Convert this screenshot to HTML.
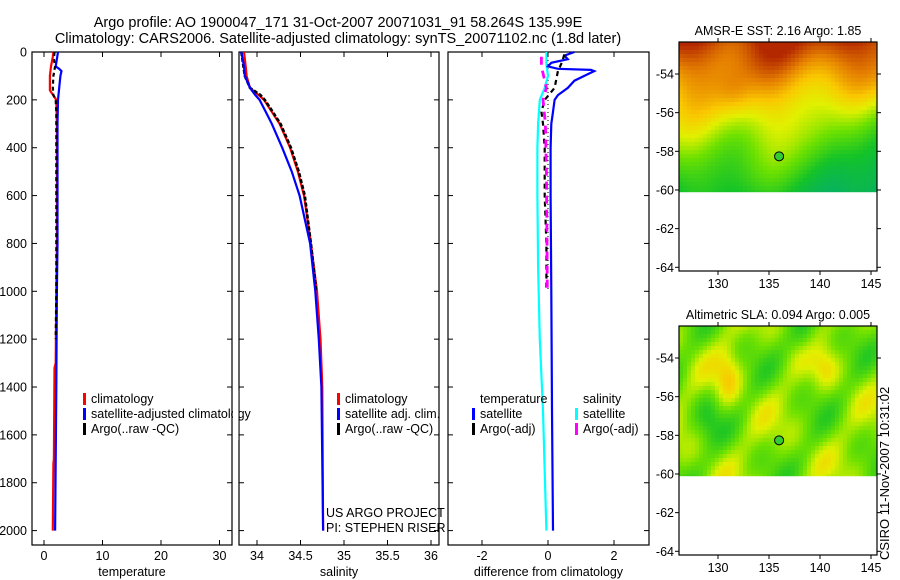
<!DOCTYPE html>
<html><head><meta charset="utf-8"><style>
body{margin:0;background:#fff;}
svg{display:block;font-family:"Liberation Sans",sans-serif;}
</style></head><body>
<svg id="fig" width="900" height="580" viewBox="0 0 900 580">
<text x="338" y="27" font-size="14.5" text-anchor="middle">Argo profile: AO 1900047_171 31-Oct-2007 20071031_91 58.264S 135.99E</text>
<text x="338" y="43" font-size="14.5" text-anchor="middle">Climatology: CARS2006. Satellite-adjusted climatology: synTS_20071102.nc (1.8d later)</text>
<text transform="translate(889,560) rotate(-90)" font-size="13">CSIRO 11-Nov-2007 10:31:02</text>
<g id="plots"></g>
</svg>
<script>
// ---- data ----
const depthTicks=[0,200,400,600,800,1000,1200,1400,1600,1800,2000];
const tempTicks=[0,10,20,30];
const salTicks=[34,34.5,35,35.5,36];
const salTickLabels=["34","34.5","35","35.5","36"];
const diffTicks=[-2,0,2];
const latTicks=[54,56,58,60,62,64];
const lonTicks=[130,135,140,145];

const tClimD=[0,20,60,100,160,200,300,500,800,1000,1300,1320,1700,1720,2000];
const tClimV=[1.6,1.5,1.2,1.0,1.0,2.1,2.2,2.2,2.2,2.1,2.0,1.8,1.7,1.6,1.5];
const tSatD=[0,60,70,80,100,150,200,300,500,800,1000,1400,2000];
const tSatV=[2.4,2.0,2.6,3.0,2.8,2.6,2.4,2.3,2.3,2.3,2.2,2.1,1.9];
const tArgoD=[0,30,60,100,150,180,200,250,300,500,800,1000,1200];
const tArgoV=[1.8,1.7,1.9,1.6,1.5,1.6,2.0,2.1,2.1,2.1,2.1,2.1,2.0];

const sClimD=[0,60,100,150,180,200,250,300,400,500,600,800,1000,1200,1400,2000];
const sClimV=[33.85,33.87,33.88,33.92,34.02,34.08,34.17,34.26,34.38,34.47,34.54,34.62,34.69,34.73,34.75,34.76];
const sSatD=[0,60,100,150,180,200,250,300,400,500,600,800,1000,1200,1400,2000];
const sSatV=[33.82,33.85,33.86,33.92,33.98,34.03,34.10,34.17,34.29,34.40,34.49,34.61,34.67,34.71,34.74,34.76];
const sArgoD=[0,50,100,150,180,200,250,300,400,500,600,800,1000];
const sArgoV=[33.82,33.84,33.86,33.92,34.04,34.09,34.18,34.27,34.39,34.48,34.55,34.62,34.68];

const dTSatD=[0,15,30,45,60,70,75,80,100,120,150,180,200,250,300,400,600,1000,1500,2000];
const dTSatV=[0.8,0.5,0.6,0.1,0.0,0.3,1.3,1.4,1.1,0.8,0.6,0.3,0.2,0.15,0.1,0.08,0.08,0.1,0.12,0.15];
const dSSatD=[0,50,100,150,200,300,400,600,900,1200,1500,2000];
const dSSatV=[-0.05,-0.05,0.0,-0.1,-0.25,-0.3,-0.32,-0.32,-0.3,-0.25,-0.15,-0.05];
const dTArgoD=[10,50,80,150,200,250,300,400,600,800,1000];
const dTArgoV=[0.5,0.4,0.3,0.2,-0.1,-0.2,-0.15,-0.1,-0.1,-0.05,-0.05];
const dSArgoD=[20,60,150,200,300,500,800,1000];
const dSArgoV=[-0.2,-0.2,-0.05,-0.15,-0.08,-0.05,-0.03,-0.02];

const sstFloat=[135.99,-58.26];
// ---- drawing ----
const NS="http://www.w3.org/2000/svg";
const root=document.getElementById('plots');
function mk(tag,attrs,parent){const e=document.createElementNS(NS,tag);for(const k in attrs)e.setAttribute(k,attrs[k]);(parent||root).appendChild(e);return e;}
const Y0=52,KY=0.2393,YB=545;
const yD=d=>Y0+d*KY;

function panel(name,x0,x1,fx,ticks,labels,xlabel){
  const g=mk('g',{});
  
  
  const r=mk('rect',{x:x0,y:Y0,width:x1-x0,height:YB-Y0,fill:'none',stroke:'#000','stroke-width':1.2},g);
  
  
  ticks.forEach((t,i)=>{const x=fx(t);
    mk('line',{x1:x,x2:x,y1:YB,y2:YB-5,stroke:'#000'},g);mk('line',{x1:x,x2:x,y1:Y0,y2:Y0+5,stroke:'#000'},g);
    const tx=mk('text',{x:x,y:YB+15,'font-size':12.5,'text-anchor':'middle'},g);tx.textContent=labels[i];
    
    });
  depthTicks.forEach(d=>{mk('line',{x1:x0,x2:x0+5,y1:yD(d),y2:yD(d),stroke:'#000'},g);mk('line',{x1:x1,x2:x1-5,y1:yD(d),y2:yD(d),stroke:'#000'},g);});
  const xl=mk('text',{x:(x0+x1)/2,y:YB+31,'font-size':12.5,'text-anchor':'middle'},g);xl.textContent=xlabel;
  
  
  return g;
}
function line(g,D,V,fx,color,name,dash,w){
  const p=mk('polyline',{points:D.map((d,i)=>fx(V[i]).toFixed(1)+','+yD(d).toFixed(1)).join(' '),fill:'none',stroke:color,'stroke-width':w||2.2},g);
  if(dash)p.setAttribute('stroke-dasharray',dash);
  
  
}
function legend(g,x,y,items){
  items.forEach((it,i)=>{
    const yy=y+i*15;
    const r=mk('rect',{x:x,y:yy-10,width:3,height:12,fill:it[0]},g);
    
    
    const t=mk('text',{x:x+8,y:yy,'font-size':12.5},g);t.textContent=it[1];
    
    
  });
}
depthTicks.forEach(d=>{const t=mk('text',{x:27,y:yD(d)+4.5,'font-size':12.5,'text-anchor':'end'});t.textContent=d;
  
  });

const fT=v=>44+v*5.85;
const g1=panel('temperature-panel',32,232,fT,tempTicks,tempTicks.map(String),'temperature');
line(g1,tClimD,tClimV,fT,'#f00','temp-climatology-line');
line(g1,tSatD,tSatV,fT,'#00f','temp-satellite-line');
line(g1,tArgoD,tArgoV,fT,'#000','temp-argo-line','4,3');
legend(g1,83,403,[['#f00','climatology'],['#00f','satellite-adjusted climatology'],['#000','Argo(..raw -QC)']]);
const fS=v=>257+(v-34)*87;
const g2=panel('salinity-panel',239,439,fS,salTicks,salTickLabels,'salinity');
mk('rect',{x:233,y:390,width:5.5,height:50,fill:'#fff'},g2);
line(g2,sClimD,sClimV,fS,'#f00','sal-climatology-line');
line(g2,sArgoD,sArgoV,fS,'#000','sal-argo-line','4,2',2.6);
line(g2,sSatD,sSatV,fS,'#00f','sal-satellite-line');
legend(g2,337,403,[['#f00','climatology'],['#00f','satellite adj. clim.'],['#000','Argo(..raw -QC)']]);
const u1=mk('text',{x:326,y:517,'font-size':12.5},g2);u1.textContent='US ARGO PROJECT';

const u2=mk('text',{x:326,y:532,'font-size':12.5},g2);u2.textContent='PI: STEPHEN RISER';

const fDf=v=>548+v*33;
const g3=panel('difference-panel',448,649,fDf,diffTicks,diffTicks.map(String),'difference from climatology');
mk('line',{x1:fDf(0),x2:fDf(0),y1:Y0,y2:yD(1000),stroke:'#000','stroke-dasharray':'1,3'},g3);
line(g3,dSSatD,dSSatV,fDf,'#0ff','sal-diff-satellite-line');
line(g3,dTSatD,dTSatV,fDf,'#00f','temp-diff-satellite-line');
line(g3,dTArgoD,dTArgoV,fDf,'#000','temp-diff-argo-line','5,4');
line(g3,dSArgoD,dSArgoV,fDf,'#f0f','sal-diff-argo-line','8,6',2.8);
const lt=mk('text',{x:480,y:403,'font-size':12.5},g3);lt.textContent='temperature';
const ls=mk('text',{x:583,y:403,'font-size':12.5},g3);ls.textContent='salinity';
legend(g3,472,418,[['#00f','satellite'],['#000','Argo(-adj)']]);
legend(g3,575,418,[['#0ff','satellite'],['#f0f','Argo(-adj)']]);

function cmap(t){
  const st=[[0,[0,170,120]],[0.25,[20,195,40]],[0.45,[110,225,0]],[0.6,[225,240,0]],[0.72,[250,200,0]],[0.85,[230,130,0]],[1,[180,40,0]]];
  t=Math.max(0,Math.min(1,t));
  for(let i=1;i<st.length;i++){if(t<=st[i][0]){const a=st[i-1],b=st[i],f=(t-a[0])/(b[0]-a[0]);
    return 'rgb('+a[1].map((c,k)=>Math.round(c+(b[1][k]-c)*f)).join(',')+')';}}
  return 'rgb(180,40,0)';
}
function mapPanel(name,top,title,field){
  const g=mk('g',{});
  
  
  const L=679,R=877,B=top+229;
  const fx=lon=>718+(lon-130)*10.2, fy=lat=>top+32+(lat-54)*19.33;
  const img=mk('g',{},g);
  
  
  const cs=4, yb=fy(60.1);
  for(let y=top;y<yb;y+=cs){for(let x=L;x<R;x+=cs){
    const lon=130+(x+2-718)/10.2, lat=54+(y+2-top-32)/19.33;
    mk('rect',{x:x,y:y,width:Math.min(cs,R-x)+0.3,height:Math.min(cs,yb-y)+0.3,fill:cmap(field(lon,lat))},img);}}
  const fr=mk('rect',{x:L,y:top,width:R-L,height:B-top,fill:'none',stroke:'#000','stroke-width':1.2},g);
  
  latTicks.forEach(l=>{const y=fy(l);mk('line',{x1:L-4,x2:L,y1:y,y2:y,stroke:'#000'},g);mk('line',{x1:R,x2:R+4,y1:y,y2:y,stroke:'#000'},g);
    const t=mk('text',{x:L-5,y:y+4.5,'font-size':12.5,'text-anchor':'end'},g);t.textContent='-'+l;
    });
  lonTicks.forEach(l=>{const x=fx(l);mk('line',{x1:x,x2:x,y1:top-4,y2:top,stroke:'#000'},g);mk('line',{x1:x,x2:x,y1:B,y2:B+4,stroke:'#000'},g);
    const t=mk('text',{x:x,y:B+17,'font-size':12.5,'text-anchor':'middle'},g);t.textContent=l;
    });
  const tt=mk('text',{x:(L+R)/2,y:top-7,'font-size':12.5,'text-anchor':'middle'},g);tt.textContent=title;
  
  const c=mk('circle',{cx:fx(sstFloat[0]),cy:fy(-sstFloat[1]),r:4.5,fill:'#3c3',stroke:'#000'},g);
  
}
mapPanel('sst-map',42,'AMSR-E SST: 2.16  Argo: 1.85',(lon,lat)=>{
  let v=0.97-(lat-52.5)/7.5*0.7;
  v+=0.05*Math.sin(lon*0.8)+0.04*Math.cos(lat*1.1+lon*0.45);
  const e=1/(1+Math.exp(-(lon-140.5)*1.2)), n=1/(1+Math.exp(-(lat-55.3)*1.5));
  v-=0.2*e*n;
  v+=0.08*Math.exp(-((lon-131.5)**2/3+(lat-55)**2/1.5));
  return v;});
mapPanel('sla-map',326,'Altimetric SLA: 0.094  Argo: 0.005',(lon,lat)=>{
  let v=0.47+0.08*Math.sin(lon*0.7+lat*0.9)+0.07*Math.cos(lat*1.3-lon*0.55)+0.05*Math.sin(lon*1.4+lat*1.8);
  v+=0.18*Math.exp(-((lon-131)**2/1.5+(lat-55)**2/2));
  v+=0.12*Math.exp(-((lon-140.5)**2/1.5+(lat-54.5)**2/1));
  v-=0.12*Math.exp(-((lon-129)**2/1.5+(lat-57)**2/1.5));
  v-=0.12*Math.exp(-((lon-138.5)**2/2+(lat-53)**2/1));
  return v;});
</script>
</body></html>
